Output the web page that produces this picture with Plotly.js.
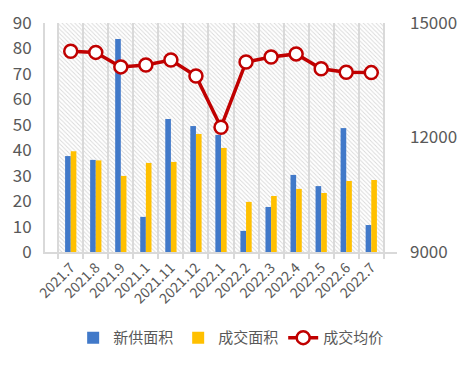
<!DOCTYPE html>
<html>
<head>
<meta charset="utf-8">
<script src="https://cdn.plot.ly/plotly-3.0.1.min.js"></script>
<style>html,body{margin:0;padding:0;background:#fff;}#chart{width:473px;height:369px;}</style>
</head>
<body>
<div id="chart"></div>
<script>
const categories = ["2021.7","2021.8","2021.9","2021.1","2021.11","2021.12","2022.1","2022.2","2022.3","2022.4","2022.5","2022.6","2022.7"];
const newSupply = [37.7, 36.2, 83.7, 13.8, 52.3, 49.5, 46.0, 8.3, 17.7, 30.3, 25.9, 48.7, 10.6];
const dealArea = [39.6, 36.0, 29.9, 35.0, 35.4, 46.4, 40.9, 19.7, 22.0, 24.8, 23.2, 27.9, 28.3];
const avgPrice = [14260, 14230, 13850, 13900, 14030, 13610, 12270, 13980, 14110, 14190, 13800, 13710, 13700];
const leftTicks = [0,10,20,30,40,50,60,70,80,90];
const rightTicks = [9000,12000,15000];
const rightTickText = ["9000","12000","15000"];

const font = "'Noto Sans CJK SC', 'Microsoft YaHei', sans-serif";
const grey = "#595959";

const traces = [
  {
    type: "bar", x: categories, y: categories.map(() => 1), width: 1,
    xaxis: "x", yaxis: "y", showlegend: false, hoverinfo: "skip",
    marker: { color: "rgba(0,0,0,0)", line: { width: 0 },
      pattern: { shape: "\\", fgcolor: "#D9D9D9", bgcolor: "rgba(0,0,0,0)", size: 3, solidity: 0.3 } }
  },
  {
    type: "bar", name: "新供面积", x: categories, y: newSupply,
    xaxis: "x", yaxis: "y2", marker: { color: "#4179C9" }
  },
  {
    type: "bar", name: "成交面积", x: categories, y: dealArea,
    xaxis: "x", yaxis: "y2", marker: { color: "#FFC000" }
  },
  {
    type: "scatter", mode: "lines+markers", name: "成交均价", x: categories, y: avgPrice,
    xaxis: "x", yaxis: "y3",
    line: { color: "#C00000", width: 3.5 },
    marker: { symbol: "circle", size: 13, color: "#FFFFFF", line: { color: "#C00000", width: 2.5 } }
  }
];

const layout = {
  width: 473, height: 369,
  margin: { l: 45, r: 76, t: 23, b: 117, autoexpand: false },
  paper_bgcolor: "#FFFFFF", plot_bgcolor: "#FFFFFF",
  font: { family: font, color: grey, size: 16 },
  barmode: "group", bargap: 0.55, bargroupgap: 0,
  showlegend: true,
  legend: { orientation: "h", x: 0.08, xanchor: "left", y: -0.375, yanchor: "middle",
    font: { family: font, size: 15, color: grey }, itemwidth: 30, tracegroupgap: 0, traceorder: "normal" },
  xaxis: {
    type: "category", tickson: "boundaries", showgrid: true, gridcolor: "#D9D9D9", gridwidth: 2,
    ticks: "outside", ticklen: 5, tickcolor: "#D9D9D9", tickwidth: 2,
    showline: true, linecolor: "#D9D9D9", linewidth: 2,
    tickangle: -45, tickfont: { size: 14, color: grey, family: font }, zeroline: false
  },
  yaxis: { range: [0, 1], visible: false, fixedrange: true },
  yaxis2: {
    overlaying: "y", side: "left", range: [0, 90], tickvals: leftTicks,
    showgrid: false, zeroline: false, showline: true, linecolor: "#D9D9D9", linewidth: 2,
    ticks: "", ticklabelstandoff: 8, tickfont: { size: 17, color: grey, family: font }
  },
  yaxis3: {
    overlaying: "y", side: "right", range: [9000, 15000], tickvals: rightTicks, ticktext: rightTickText,
    showgrid: false, zeroline: false, showline: false, ticks: "",
    ticklabelstandoff: 12, tickfont: { size: 17, color: grey, family: font }
  }
};

Plotly.newPlot("chart", traces, layout, { displayModeBar: false, staticPlot: true });
</script>
</body>
</html>
